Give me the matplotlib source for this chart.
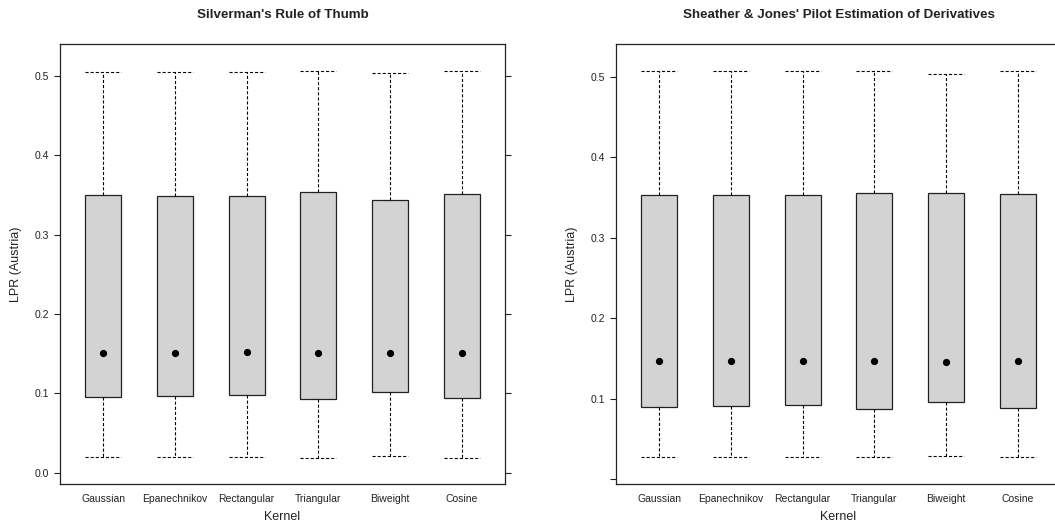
import matplotlib
matplotlib.use("Agg")
import matplotlib.pyplot as plt

plt.rcParams['font.family'] = ['Liberation Sans', 'DejaVu Sans']

kernels = ["Gaussian", "Epanechnikov", "Rectangular", "Triangular", "Biweight", "Cosine"]

# Silverman's Rule of Thumb
silv_low = [0.020, 0.020, 0.020, 0.019, 0.021, 0.019]
silv_q1 = [0.0957, 0.0970, 0.0975, 0.0924, 0.1016, 0.0945]
silv_med = [0.1504, 0.1504, 0.1520, 0.1504, 0.1504, 0.1504]
silv_q3 = [0.3500, 0.3490, 0.3480, 0.3537, 0.3435, 0.3506]
silv_high = [0.505, 0.505, 0.505, 0.506, 0.504, 0.506]

# Sheather & Jones' Pilot Estimation of Derivatives
sj_low = [0.028, 0.028, 0.028, 0.028, 0.029, 0.028]
sj_q1 = [0.0904, 0.0917, 0.0921, 0.0872, 0.0959, 0.0892]
sj_med = [0.147, 0.147, 0.147, 0.147, 0.146, 0.147]
sj_q3 = [0.3537, 0.3529, 0.3529, 0.3558, 0.3554, 0.3541]
sj_high = [0.507, 0.507, 0.507, 0.507, 0.504, 0.508]

titles = ["Silverman's Rule of Thumb", "Sheather & Jones' Pilot Estimation of Derivatives"]

W, H = 1055, 527
fig = plt.figure(figsize=(W / 100, H / 100), dpi=100)

panels = [
    dict(left=60, data=(silv_low, silv_q1, silv_med, silv_q3, silv_high), ylim=(-0.0142, 0.540),
         yticks=[0.0, 0.1, 0.2, 0.3, 0.4, 0.5], ylabels=["0.0", "0.1", "0.2", "0.3", "0.4", "0.5"],
         clip_right=False),
    dict(left=616, data=(sj_low, sj_q1, sj_med, sj_q3, sj_high), ylim=(-0.0057, 0.541),
         yticks=[0.0, 0.1, 0.2, 0.3, 0.4, 0.5], ylabels=["", "0.1", "0.2", "0.3", "0.4", "0.5"],
         clip_right=True),
]

top_px, bot_px, width_px = 44, 484, 445
dash = (0, (2.8, 1.8))
for p, title in zip(panels, titles):
    ax = fig.add_axes([p['left'] / W, (H - bot_px) / H, width_px / W, (bot_px - top_px) / H])
    lo, q1, med, q3, hi = p['data']
    stats = []
    for i, k in enumerate(kernels):
        stats.append(dict(label=k, whislo=lo[i], q1=q1[i], med=med[i], q3=q3[i], whishi=hi[i], fliers=[]))
    pos = list(range(1, len(kernels) + 1))
    ax.bxp(stats, positions=pos, widths=0.5, capwidths=0.5, showfliers=False, patch_artist=True,
           boxprops=dict(facecolor='#d3d3d3', edgecolor='#222222', linewidth=0.9),
           whiskerprops=dict(color='black', linewidth=0.8, linestyle=dash),
           capprops=dict(color='black', linewidth=0.8, linestyle=dash),
           medianprops=dict(linewidth=0, color='none'))
    ax.plot(pos, med, 'o', color='black', markersize=4.2, zorder=5)
    ax.set_xlim(0.4, 6.6)
    ax.set_ylim(*p['ylim'])
    ax.set_yticks(p['yticks'])
    ax.set_yticklabels(p['ylabels'])
    ax.set_xticks(pos)
    ax.set_xticklabels(kernels)
    ax.tick_params(axis='y', direction='out', length=4.5, width=0.8, labelsize=7.5, pad=3.5,
                   right=not p['clip_right'], labelright=False, colors='#222222', labelcolor='#222222')
    ax.tick_params(axis='x', length=0, labelsize=7.5, pad=7, labelcolor='#222222')
    for s in ax.spines.values():
        s.set_linewidth(0.9)
        s.set_color('#222222')
    if p['clip_right']:
        ax.spines['right'].set_visible(False)
    ax.set_xlabel("Kernel", fontsize=9, labelpad=5, color='#222222')
    ax.set_ylabel("LPR (Austria)", fontsize=9, labelpad=9, color='#222222')
    ax.set_title(title, fontsize=9.6, fontweight='bold', pad=18.5, color='#222222')

fig.savefig("out.png", dpi=100)
